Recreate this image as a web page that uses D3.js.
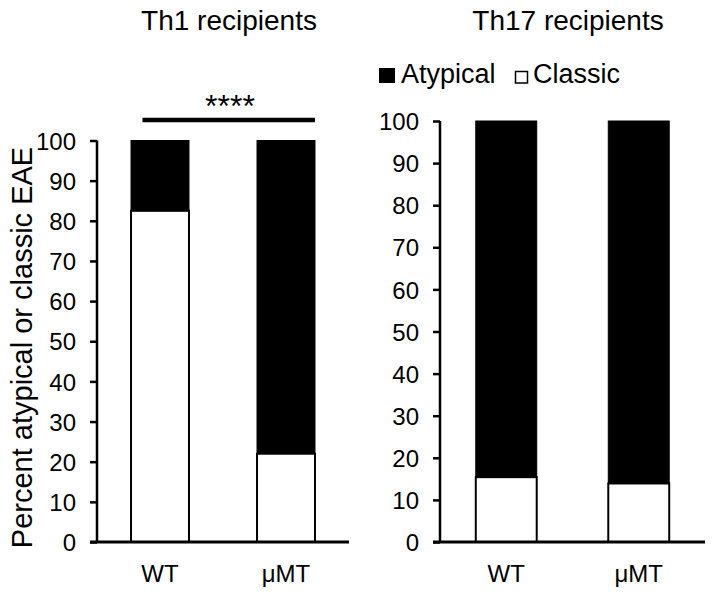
<!DOCTYPE html>
<html>
<head>
<meta charset="utf-8">
<script src="https://cdn.jsdelivr.net/npm/d3@7"></script>
<style>
  html, body { margin: 0; padding: 0; background: #fff; }
  svg { display: block; font-family: "Liberation Sans", Arial, sans-serif; }
</style>
</head>
<body>
<svg id="chart" width="714" height="597"></svg>
<script>
// ---- Data ----
const groups = ["WT", "μMT"];
const panelTitles = ["Th1 recipients", "Th17 recipients"];
const seriesNames = ["Atypical", "Classic"];
const th1Classic = [82.5, 22.0];
const th1Atypical = [17.5, 78.0];
const th17Classic = [15.4, 13.9];
const th17Atypical = [84.6, 86.1];
const yTicks = [0, 10, 20, 30, 40, 50, 60, 70, 80, 90, 100];
const yAxisTitle = "Percent atypical or classic EAE";
const significance = "****";

const svg = d3.select("#chart");

function drawPanel(cfg) {
  const { classic, atypical, xRange, yRange, title, titleX } = cfg;
  const x = d3.scalePoint().domain(groups).range(xRange).padding(0.5);
  const y = d3.scaleLinear().domain([0, 100]).range(yRange);
  const bw = x.step() * 0.46;
  const g = svg.append("g");

  // bars: classic (white) bottom, atypical (black) on top
  g.selectAll("rect.classic").data(groups).join("rect")
    .attr("x", d => x(d) - bw / 2)
    .attr("y", (d, i) => y(classic[i]))
    .attr("width", bw)
    .attr("height", (d, i) => y(0) - y(classic[i]))
    .attr("fill", "#fff").attr("stroke", "#000").attr("stroke-width", 2);
  g.selectAll("rect.atyp").data(groups).join("rect")
    .attr("x", d => x(d) - bw / 2)
    .attr("y", (d, i) => y(classic[i] + atypical[i]))
    .attr("width", bw)
    .attr("height", (d, i) => y(classic[i]) - y(classic[i] + atypical[i]))
    .attr("fill", "#000").attr("stroke", "#000").attr("stroke-width", 1);

  // y axis
  const yAxis = d3.axisLeft(y).tickValues(yTicks).tickSize(7).tickPadding(14).tickFormat(d3.format("d"));
  const ga = g.append("g").attr("transform", `translate(${xRange[0]},0)`).call(yAxis);
  ga.select(".domain").attr("d", `M0,${y(100)}V${y(0)}`).attr("stroke", "#000").attr("stroke-width", 2.5);
  ga.selectAll(".tick line").attr("stroke", "#000").attr("stroke-width", 2.5);
  ga.selectAll(".tick text").attr("font-size", 24).attr("fill", "#000")
    .attr("font-family", "'Liberation Sans', Arial, sans-serif").attr("dy", "0.36em");

  // x axis line
  g.append("line")
    .attr("x1", xRange[0] - 7).attr("x2", xRange[1])
    .attr("y1", y(0)).attr("y2", y(0))
    .attr("stroke", "#000").attr("stroke-width", 3);

  // x labels
  g.selectAll("text.xl").data(groups).join("text")
    .attr("x", d => x(d)).attr("y", 582)
    .attr("text-anchor", "middle").attr("font-size", 24).attr("fill", "#000")
    .text(d => d);

  // title
  g.append("text").attr("x", titleX).attr("y", 30)
    .attr("text-anchor", "middle").attr("font-size", 28).attr("fill", "#000")
    .text(title);
  return { x, y };
}

const left = drawPanel({
  classic: th1Classic, atypical: th1Atypical,
  xRange: [97, 349], yRange: [542, 140.5],
  title: panelTitles[0], titleX: 229
});
drawPanel({
  classic: th17Classic, atypical: th17Atypical,
  xRange: [440, 705], yRange: [542, 121],
  title: panelTitles[1], titleX: 568
});

// significance bar
const lx = left.x;
svg.append("line")
  .attr("x1", lx("WT") - 17.5).attr("x2", lx("μMT") + 29)
  .attr("y1", 120).attr("y2", 120)
  .attr("stroke", "#000").attr("stroke-width", 4.5);
svg.append("text").attr("x", 230).attr("y", 117)
  .attr("text-anchor", "middle").attr("font-size", 32).attr("fill", "#000")
  .text(significance);

// y axis title
svg.append("text")
  .attr("transform", "translate(32,347.5) rotate(-90)")
  .attr("text-anchor", "middle").attr("font-size", 29).attr("fill", "#000")
  .text(yAxisTitle);

// legend
const leg = svg.append("g");
leg.append("rect").attr("x", 379).attr("y", 68).attr("width", 16).attr("height", 15).attr("fill", "#000");
leg.append("text").attr("x", 401).attr("y", 83).attr("font-size", 27).attr("fill", "#000").text(seriesNames[0]);
leg.append("rect").attr("x", 515.5).attr("y", 71.5).attr("width", 12).attr("height", 11.5)
  .attr("fill", "#fff").attr("stroke", "#000").attr("stroke-width", 1.5);
leg.append("text").attr("x", 533).attr("y", 83).attr("font-size", 27).attr("fill", "#000").text(seriesNames[1]);
</script>
</body>
</html>
